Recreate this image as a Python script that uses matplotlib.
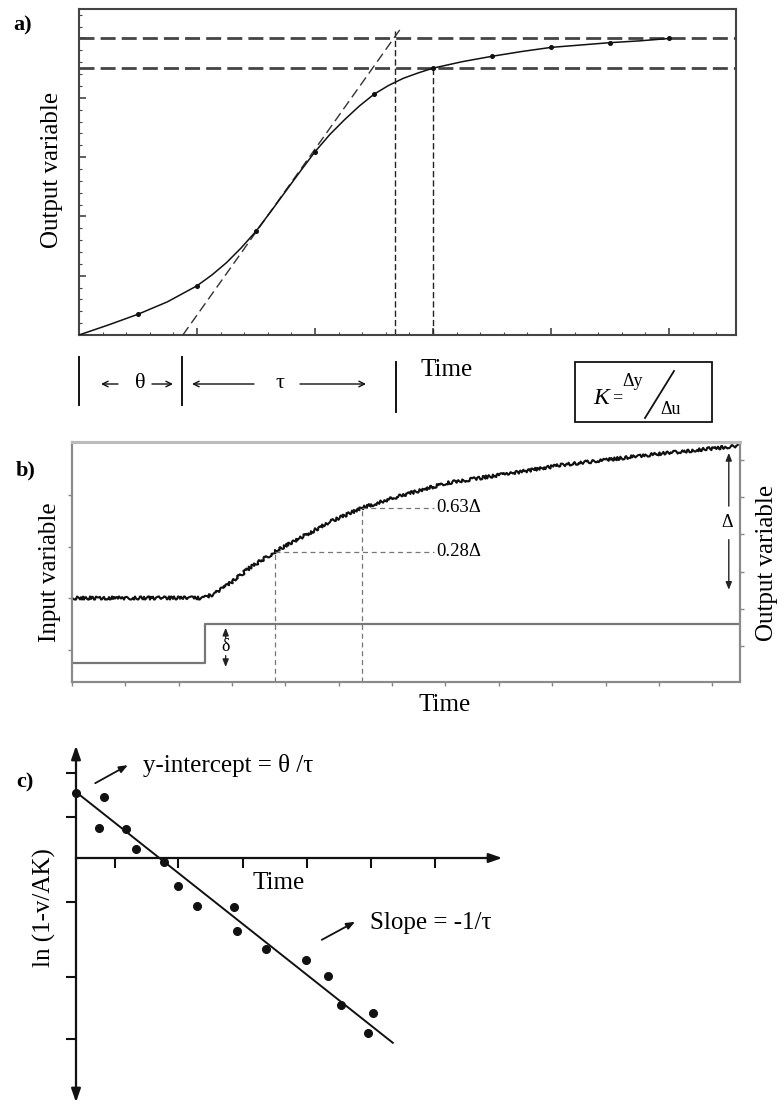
import matplotlib
matplotlib.use('Agg')
import matplotlib.pyplot as plt
from matplotlib.ticker import MultipleLocator, FixedLocator
from matplotlib.lines import Line2D
from matplotlib.patches import Rectangle

plt.rcParams['font.family'] = ['Liberation Serif', 'DejaVu Serif']

# ---------------- data: panel a (step response, tangent construction) ----------------
a_time = [0, 0.25, 0.5, 0.75, 1.0, 1.125, 1.25, 1.375, 1.5, 1.625, 1.75, 1.875,
          2.0, 2.125, 2.25, 2.375, 2.5, 2.625, 2.75, 2.875, 3.0, 3.25, 3.5,
          3.75, 4.0, 4.25, 4.5, 4.75, 5.0]
a_output = [0, 0.17, 0.35, 0.56, 0.83, 1.01, 1.22, 1.47, 1.75, 2.08, 2.42, 2.76,
            3.09, 3.38, 3.63, 3.86, 4.06, 4.21, 4.33, 4.42, 4.50, 4.61, 4.70,
            4.78, 4.85, 4.89, 4.93, 4.96, 5.0]
a_marker_time = [0.5, 1.0, 1.5, 2.0, 2.5, 3.0, 3.5, 4.0, 4.5, 5.0]
a_tangent_time = [0.88, 2.72]
a_tangent_out = [0.0, 5.15]
a_final = 5.0
a_level2 = 4.5
a_tau_time = 2.68
a_tau_top = 5.12
a_t2 = 3.0

# ---------------- data: panel b (noisy response + input step) ----------------
b_time = [0, 2.45, 2.67, 2.95, 3.33, 3.80, 4.27, 4.83, 5.43, 6.14, 7.02,
          8.26, 9.20, 10.77, 12.48]
b_output = [2.29, 2.29, 2.40, 2.67, 3.10, 3.53, 3.90, 4.33, 4.71, 5.03, 5.38,
            5.65, 5.87, 6.13, 6.38]
b_in_time = [0, 2.50, 12.52]
b_input = [0.75, 1.50, 1.50]
b_t28, b_y28 = 3.80, 3.53
b_t63, b_y63 = 5.43, 4.71
b_label_x = 6.78
b_delta_x, b_delta_top, b_delta_bot, b_delta_mid = 12.31, 6.19, 2.51, 4.31
b_small_x, b_small_top, b_small_bot, b_small_mid = 2.88, 1.43, 0.67, 1.06

# ---------------- data: panel c (log plot, linear fit) ----------------
c_time = [0.0, 0.44, 0.36, 0.78, 0.94, 1.38, 1.59, 1.89, 2.47, 2.52, 2.97,
          3.59, 3.94, 4.14, 4.64, 4.56]
c_lnv = [1.48, 1.39, 0.68, 0.66, 0.20, -0.09, -0.64, -1.09, -1.11, -1.66,
         -2.07, -2.32, -2.68, -3.34, -3.52, -3.98]
c_fit_time = [0.0, 4.95]
c_fit = [1.50, -4.20]
c_xticks = [0.61, 1.59, 2.61, 3.61, 4.61, 5.61]
c_yticks = [1.93, 0.93, -1.0, -2.70, -4.11]

W, H = 782, 1106
fig = plt.figure(figsize=(W / 100, H / 100), dpi=100)
fig.patch.set_facecolor('white')


def rect(l, t, r, b):
    return [l / W, 1 - b / H, (r - l) / W, (b - t) / H]


# ======================= panel a =======================
axa = fig.add_axes(rect(79, 9, 736, 335))
axa.set_xlim(0, 657 / 118)
axa.set_ylim(0, 326 / 59.3)
mark_idx = [a_time.index(t) for t in a_marker_time]
axa.plot(a_time, a_output, color='#111', lw=1.1, marker='o', ms=2.6,
         markevery=mark_idx, zorder=4, solid_joinstyle='round')
axa.plot(a_tangent_time, a_tangent_out, color='#333', lw=1.0,
         dashes=(7, 3.5), zorder=3)
axa.axhline(a_final, color='#444', lw=2.0, dashes=(5.4, 2.2))
axa.axhline(a_level2, color='#444', lw=2.0, dashes=(5.4, 2.2))
axa.plot([a_tau_time, a_tau_time], [0, a_tau_top], color='#222', lw=1.0,
         dashes=(4.5, 2.2))
axa.plot([a_t2, a_t2], [0, a_level2], color='#222', lw=1.0, dashes=(4.5, 2.2))
for s in axa.spines.values():
    s.set_color('#444')
    s.set_linewidth(1.5)
axa.xaxis.set_major_locator(MultipleLocator(1))
axa.xaxis.set_minor_locator(MultipleLocator(0.2))
axa.yaxis.set_major_locator(MultipleLocator(1))
axa.yaxis.set_minor_locator(MultipleLocator(0.2))
axa.tick_params(which='both', direction='in', color='#444', labelleft=False,
                labelbottom=False, top=False, right=False)
axa.tick_params(which='major', length=5, width=1.2)
axa.tick_params(which='minor', length=2.5, width=0.8)

# ======================= panel b =======================
axb = fig.add_axes(rect(72, 442, 740, 682))
axb.set_xlim(0, 12.52)
axb.set_ylim(0.381, 5.023)
axb2 = axb.twinx()
axb2.set_ylim(0.032, 6.484)

axb.plot(b_in_time, b_input, drawstyle='steps-post', color='#777', lw=1.6)
ln, = axb2.plot(b_time, b_output, color='#111', lw=1.5)
ln.set_sketch_params(scale=1.6, length=3, randomness=6)
axb2.plot([b_t28, b_t28], [0.032, b_y28], color='#777', lw=0.9, dashes=(4, 3))
axb2.plot([b_t63, b_t63], [0.032, b_y63], color='#777', lw=0.9, dashes=(4, 3))
axb2.plot([b_t28, b_label_x], [b_y28, b_y28], color='#777', lw=0.9, dashes=(4, 3))
axb2.plot([b_t63, b_label_x], [b_y63, b_y63], color='#777', lw=0.9, dashes=(4, 3))
axb2.text(b_label_x + 0.05, b_y63, '0.63Δ', fontsize=13.5, va='center', ha='left')
axb2.text(b_label_x + 0.05, b_y28, '0.28Δ', fontsize=13.5, va='center', ha='left')
aprop = dict(arrowstyle='-|>,head_width=0.18,head_length=0.45', lw=1.0,
             color='#222', shrinkA=0, shrinkB=0)
axb2.annotate('', xy=(b_delta_x, b_delta_top), xytext=(b_delta_x, b_delta_mid + 0.45),
              arrowprops=aprop)
axb2.annotate('', xy=(b_delta_x, b_delta_bot), xytext=(b_delta_x, b_delta_mid - 0.45),
              arrowprops=aprop)
axb2.text(b_delta_x - 0.04, b_delta_mid, 'Δ', fontsize=13, ha='center', va='center')
axb.annotate('', xy=(b_small_x, b_small_top), xytext=(b_small_x, b_small_mid + 0.17),
             arrowprops=aprop)
axb.annotate('', xy=(b_small_x, b_small_bot), xytext=(b_small_x, b_small_mid - 0.17),
             arrowprops=aprop)
axb.text(b_small_x, b_small_mid, 'δ', fontsize=13, ha='center', va='center')

for ax in (axb, axb2):
    for s in ax.spines.values():
        s.set_color('#8a8a8a')
        s.set_linewidth(1.5)
    ax.spines['top'].set_color('#bbbbbb')
    ax.spines['top'].set_linewidth(2.2)
axb.xaxis.set_major_locator(MultipleLocator(1))
axb.yaxis.set_major_locator(FixedLocator([1, 2, 3, 4]))
axb2.yaxis.set_major_locator(FixedLocator([1, 2, 3, 4, 5, 6]))
axb.tick_params(direction='out', length=3, width=1, color='#888',
                labelleft=False, labelbottom=False)
axb2.tick_params(direction='out', length=3, width=1, color='#888',
                 labelright=False)

# ======================= panel c =======================
axc = fig.add_axes(rect(40, 740, 520, 1106))
axc.set_xlim((40 - 76) / 64, (520 - 76) / 64)
axc.set_ylim((858 - 1106) / 44, (858 - 740) / 44)
axc.patch.set_alpha(0)
axc.plot(c_fit_time, c_fit, color='#111', lw=1.4)
axc.plot(c_time, c_lnv, 'o', color='#111', ms=5.5, clip_on=False)
axc.spines['top'].set_visible(False)
axc.spines['right'].set_visible(False)
axc.spines['left'].set_position(('data', 0))
axc.spines['bottom'].set_position(('data', 0))
axc.spines['left'].set_bounds(-5.45, 2.45)
axc.spines['bottom'].set_bounds(0, 6.55)
for s in ('left', 'bottom'):
    axc.spines[s].set_linewidth(1.6)
    axc.spines[s].set_color('#111')
axc.xaxis.set_major_locator(FixedLocator(c_xticks))
axc.yaxis.set_major_locator(FixedLocator(c_yticks))
axc.tick_params(direction='out', length=7, width=1.5, color='#111',
                labelleft=False, labelbottom=False)
hp = dict(arrowstyle='-|>,head_width=0.28,head_length=0.8', lw=1.6,
          color='#111', shrinkA=0, shrinkB=0)
axc.annotate('', xy=(0, 2.55), xytext=(0, 2.2), arrowprops=hp)
axc.annotate('', xy=(0, -5.55), xytext=(0, -5.2), arrowprops=hp)
axc.annotate('', xy=(6.66, 0), xytext=(6.4, 0), arrowprops=hp)
sp = dict(arrowstyle='-|>,head_width=0.2,head_length=0.5', lw=1.3,
          color='#111', shrinkA=0, shrinkB=0)
axc.annotate('', xy=(0.81, 2.11), xytext=(0.30, 1.70), arrowprops=sp)
axc.text(1.05, 2.11, 'y-intercept = θ /τ', fontsize=18, ha='left', va='center')
axc.annotate('', xy=(4.36, -1.45), xytext=(3.84, -1.86), arrowprops=sp)
axc.text(4.59, -1.48, 'Slope = -1/τ', fontsize=18, ha='left', va='center')
axc.text(3.17, -0.57, 'Time', fontsize=18, ha='center', va='center')

# ======================= overlay (labels in pixel space) =======================
ov = fig.add_axes([0, 0, 1, 1])
ov.set_xlim(0, W)
ov.set_ylim(H, 0)
ov.axis('off')
ov.patch.set_alpha(0)

ov.text(23, 25, 'a)', fontsize=16, fontweight='bold', ha='center', va='center')
ov.text(26, 470, 'b)', fontsize=16, fontweight='bold', ha='center', va='center')
ov.text(25, 782, 'c)', fontsize=16, fontweight='bold', ha='center', va='center')
ov.text(52, 170, 'Output variable', fontsize=18, rotation=90, ha='center', va='center')
ov.text(447, 370, 'Time', fontsize=18, ha='center', va='center')
ov.text(50, 572, 'Input variable', fontsize=18, rotation=90, ha='center', va='center')
ov.text(767, 563, 'Output variable', fontsize=18, rotation=90, ha='center', va='center')
ov.text(445, 705, 'Time', fontsize=18, ha='center', va='center')
ov.text(44, 908, 'ln (1-v/AK)', fontsize=18, rotation=90, ha='center', va='center')

for x, t, b in [(79, 357, 405), (182, 357, 405), (396, 362, 412)]:
    ov.add_line(Line2D([x, x], [t, b], color='#111', lw=1.4))
ar = dict(arrowstyle='->,head_width=0.2,head_length=0.4', lw=1.0, color='#111',
          shrinkA=0, shrinkB=0)
yrow = 384
ov.annotate('', xy=(101, yrow), xytext=(118, yrow), arrowprops=ar)
ov.text(140, yrow, 'θ', fontsize=16, ha='center', va='center')
ov.annotate('', xy=(173, yrow), xytext=(152, yrow), arrowprops=ar)
ov.annotate('', xy=(192, yrow), xytext=(254, yrow), arrowprops=ar)
ov.text(280, yrow, 'τ', fontsize=16, ha='center', va='center')
ov.annotate('', xy=(366, yrow), xytext=(300, yrow), arrowprops=ar)

ov.add_patch(Rectangle((575, 362), 137, 60, fill=False, ec='#111', lw=1.3))
ov.text(601, 399, 'K', fontsize=17, style='italic', ha='center', va='center')
ov.text(617, 398, '=', fontsize=13, ha='center', va='center')
ov.text(633, 381, 'Δy', fontsize=13, ha='center', va='center')
ov.add_line(Line2D([645, 674], [418, 371], color='#111', lw=1.3))
ov.text(671, 409, 'Δu', fontsize=13, ha='center', va='center')

fig.savefig('out.png', dpi=100, facecolor='white')
